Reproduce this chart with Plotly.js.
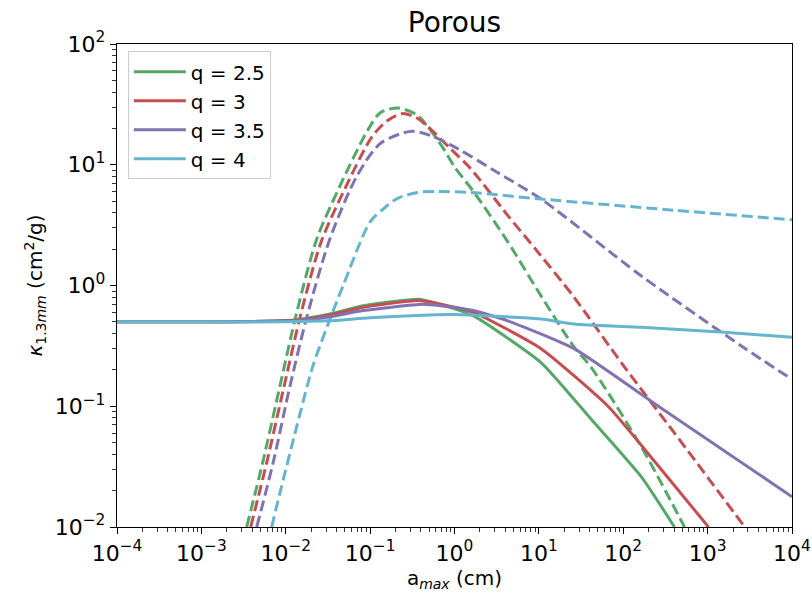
<!DOCTYPE html>
<html>
<head>
<meta charset="utf-8">
<script src="https://cdn.plot.ly/plotly-3.0.1.min.js"></script>
<style>html,body{margin:0;padding:0;background:#fff;}#chart{width:812px;height:594px;}</style>
</head>
<body>
<div id="chart"></div>
<script>
// ---- data ----
const seriesNames = ["q = 2.5", "q = 3", "q = 3.5", "q = 4"];
const seriesColors = ["#55A868", "#C44E52", "#8172B2", "#64B5CD"];

// solid curves
const xSolid25 = [1e-4, 1e-3, 0.005, 0.0135, 0.0334, 0.0826, 0.372, 0.681, 1.68, 10.6, 41.7, 164, 405];
const ySolid25 = [0.5, 0.5, 0.505, 0.52, 0.58, 0.68, 0.77, 0.70, 0.56, 0.23, 0.078, 0.026, 0.01];
const xSolid3 = [1e-4, 1e-3, 0.005, 0.0135, 0.0334, 0.0826, 0.372, 0.681, 1.68, 10.6, 66, 261, 1023];
const ySolid3 = [0.5, 0.5, 0.505, 0.515, 0.57, 0.66, 0.75, 0.70, 0.60, 0.30, 0.1, 0.032, 0.01];
const xSolid35 = [1e-4, 1e-3, 0.005, 0.0135, 0.0334, 0.0826, 0.417, 0.681, 1.68, 4.28, 26.1, 261, 10000];
const ySolid35 = [0.5, 0.5, 0.503, 0.51, 0.55, 0.62, 0.70, 0.68, 0.62, 0.51, 0.30, 0.1, 0.0178];
const xSolid4 = [1e-4, 1e-3, 0.01, 0.0316, 0.1, 0.5, 1, 10, 26.1, 164, 1585, 10000];
const ySolid4 = [0.5, 0.5, 0.5, 0.51, 0.54, 0.57, 0.575, 0.53, 0.48, 0.45, 0.41, 0.373];

// dashed curves
const xDash25 = [0.00344, 0.00532, 0.00851, 0.0135, 0.0234, 0.044, 0.092, 0.132, 0.215, 0.355, 0.479, 0.741, 1, 1.68, 4.28, 10.6, 26.1, 41.7, 164, 532];
const yDash25 = [0.01, 0.034, 0.146, 0.60, 2.44, 6.7, 18.9, 27, 29.5, 26, 20.8, 13.6, 9.6, 6.0, 2.3, 0.82, 0.31, 0.21, 0.046, 0.01];
const xDash3 = [0.00384, 0.00594, 0.00955, 0.0151, 0.0263, 0.0501, 0.105, 0.158, 0.24, 0.355, 0.479, 0.895, 1.55, 4.28, 10, 26.1, 102, 405, 2754];
const yDash3 = [0.01, 0.034, 0.146, 0.58, 2.3, 6.3, 17, 23, 26.5, 24.5, 20.8, 13.6, 9.3, 3.8, 1.85, 0.80, 0.214, 0.06, 0.01];
const xDash35 = [0.00453, 0.00708, 0.0112, 0.0178, 0.0334, 0.07, 0.132, 0.302, 0.518, 1.09, 3.16, 10.6, 164, 2541, 10000];
const yDash35 = [0.01, 0.034, 0.146, 0.55, 2.44, 8.1, 15, 18.9, 17.5, 13.6, 8.7, 5.2, 1.2, 0.314, 0.167];
const xDash4 = [0.00681, 0.00851, 0.0135, 0.0209, 0.0334, 0.0479, 0.1, 0.143, 0.209, 0.363, 0.631, 1.55, 10.6, 405, 10000];
const yDash4 = [0.01, 0.019, 0.068, 0.214, 0.525, 1.0, 3.37, 4.3, 5.25, 5.9, 6.0, 5.9, 5.2, 4.2, 3.5];

const xTickVals = [1e-4, 1e-3, 1e-2, 1e-1, 1, 10, 100, 1000, 10000];
const xTickText = ["10<sup>−4</sup>", "10<sup>−3</sup>", "10<sup>−2</sup>", "10<sup>−1</sup>", "10<sup>0</sup>", "10<sup>1</sup>", "10<sup>2</sup>", "10<sup>3</sup>", "10<sup>4</sup>"];
const yTickVals = [0.01, 0.1, 1, 10, 100];
const yTickText = ["10<sup>−2</sup>", "10<sup>−1</sup>", "10<sup>0</sup>", "10<sup>1</sup>", "10<sup>2</sup>"];

// ---- traces ----
const solids = [[xSolid25, ySolid25], [xSolid3, ySolid3], [xSolid35, ySolid35], [xSolid4, ySolid4]];
const dashes = [[xDash25, yDash25], [xDash3, yDash3], [xDash35, yDash35], [xDash4, yDash4]];
const traces = [];
dashes.forEach((d, i) => {
  traces.push({x: d[0], y: d[1], mode: 'lines', type: 'scatter', showlegend: false,
    legendgroup: 'g' + i, hoverinfo: 'skip',
    line: {color: seriesColors[i], width: 3, dash: '11px,5px', shape: 'spline', smoothing: 0.8}});
});
solids.forEach((d, i) => {
  traces.push({x: d[0], y: d[1], mode: 'lines', type: 'scatter', name: seriesNames[i],
    legendgroup: 'g' + i,
    line: {color: seriesColors[i], width: 3, shape: 'spline', smoothing: 0.5}});
});

const font = {family: 'DejaVu Sans, sans-serif', color: '#000'};
const layout = {
  width: 812, height: 594,
  margin: {l: 117, r: 20, t: 44, b: 67, pad: 0},
  paper_bgcolor: '#fff', plot_bgcolor: '#fff',
  font: Object.assign({size: 18}, font),
  title: {text: 'Porous', x: 0.5, xref: 'paper', y: 1 - 22/594, yref: 'container', yanchor: 'middle',
    font: Object.assign({}, font, {size: 28})},
  xaxis: {type: 'log', range: [-4, 4], showgrid: false, zeroline: false,
    showline: true, linecolor: '#000', linewidth: 1.2, mirror: true,
    ticks: 'outside', ticklen: 6, tickwidth: 1, tickcolor: '#000',
    tickvals: xTickVals, ticktext: xTickText, tickfont: Object.assign({}, font, {size: 22}),
    minor: {ticks: 'outside', ticklen: 3.5, tickcolor: '#000', tickwidth: 0.8, dtick: 'D1', showgrid: false},
    title: {text: 'a<sub><i>max</i></sub> (cm)', font: Object.assign({}, font, {size: 20}), standoff: 6}},
  yaxis: {type: 'log', range: [-2, 2], showgrid: false, zeroline: false,
    showline: true, linecolor: '#000', linewidth: 1.2, mirror: true,
    ticks: 'outside', ticklen: 6, tickwidth: 1, tickcolor: '#000',
    tickvals: yTickVals, ticktext: yTickText, tickfont: Object.assign({}, font, {size: 22}),
    minor: {ticks: 'outside', ticklen: 3.5, tickcolor: '#000', tickwidth: 0.8, dtick: 'D1', showgrid: false},
    title: {text: '<i>κ</i><sub>1.3<i>mm</i></sub> (cm<sup>2</sup>/g)', font: Object.assign({}, font, {size: 20}), standoff: 6}},
  legend: {x: 0.016, y: 0.985, xanchor: 'left', yanchor: 'top',
    bgcolor: 'rgba(255,255,255,0.9)', bordercolor: '#cccccc', borderwidth: 1,
    itemwidth: 52,
    font: Object.assign({}, font, {size: 20}), traceorder: 'grouped', tracegroupgap: 0}
};

Plotly.newPlot('chart', traces, layout, {displayModeBar: false, staticPlot: true});
</script>
</body>
</html>
